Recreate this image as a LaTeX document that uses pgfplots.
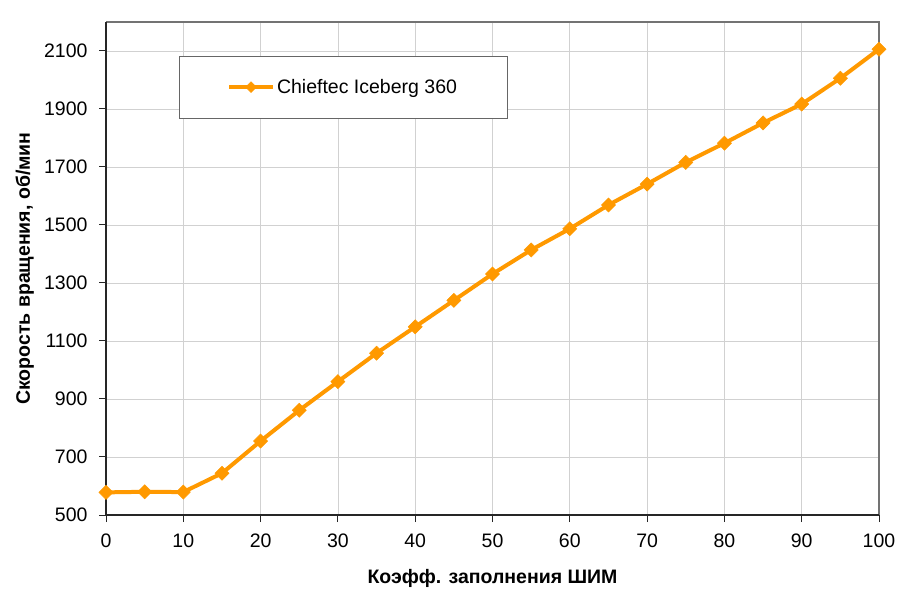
\documentclass[border=0pt]{standalone}
\usepackage{fontspec}
\setmainfont{Liberation Sans}
\usepackage{pgfplots}
\pgfplotsset{compat=1.18}
\definecolor{ser}{HTML}{FF9900}
\begin{document}
\begin{tikzpicture}
\useasboundingbox (0,0) rectangle (908bp,600bp);
\begin{axis}[
  at={(106bp,85bp)}, anchor=south west,
  scale only axis, width=773bp, height=493bp,
  xmin=0, xmax=100, ymin=500, ymax=2200,
  xtick={0,10,...,100}, ytick={500,700,...,2100},
  /pgf/number format/assume math mode=true,
  /pgf/number format/1000 sep={},
  tick label style={font=\fontsize{19.5bp}{22bp}\selectfont},
  yticklabel style={xshift=-8bp},
  xticklabel style={yshift=-8bp},
  grid=major, grid style={color=black!18, line width=0.8pt},
  axis line style={draw=none},
  tick style={black!85, line width=1bp},
  tick align=outside, major tick length=7bp,
  xtick pos=bottom, ytick pos=left,
  xlabel={Коэфф. заполнения ШИМ},
  ylabel={Скорость вращения, об/мин},
  every axis x label/.style={at={(axis description cs:0.5,-0.128)}, anchor=center, font=\bfseries\fontsize{19.5bp}{22bp}\selectfont},
  every axis y label/.style={at={(axis description cs:-0.105,0.5)}, rotate=90, anchor=center, font=\bfseries\fontsize{19.5bp}{22bp}\selectfont},
  legend style={at={(axis cs:9.4,2083)}, anchor=north west, draw=black!60, line width=0.8pt,
    inner xsep=48bp, inner ysep=21bp, font=\fontsize{19.5bp}{22bp}\selectfont},
  legend image code/.code={\draw[#1, mark size=3.8bp, mark repeat=2, mark phase=2] plot coordinates {(0bp,0bp) (22bp,0bp) (44bp,0bp)};},
  clip=false,
]
\addplot[color=ser, line width=4bp, mark=square*, mark size=5bp,
  mark options={rotate=45, solid, fill=ser, draw=ser, line width=0.5pt}]
coordinates {
(0,578) (5,580) (10,579) (15,644) (20,755) (25,861) (30,960) (35,1058)
(40,1149) (45,1240) (50,1331) (55,1414) (60,1487) (65,1569) (70,1641)
(75,1716) (80,1782) (85,1852) (90,1917) (95,2006) (100,2106)
};
\addlegendentry{Chieftec Iceberg 360}
\draw[black!55, line width=1.2bp] (rel axis cs:0,1) -- (rel axis cs:1,1) -- (rel axis cs:1,0);
\draw[black!85, line width=1.6bp] (rel axis cs:0,1) -- (rel axis cs:0,0) -- (rel axis cs:1,0);
\end{axis}
\end{tikzpicture}
\end{document}
